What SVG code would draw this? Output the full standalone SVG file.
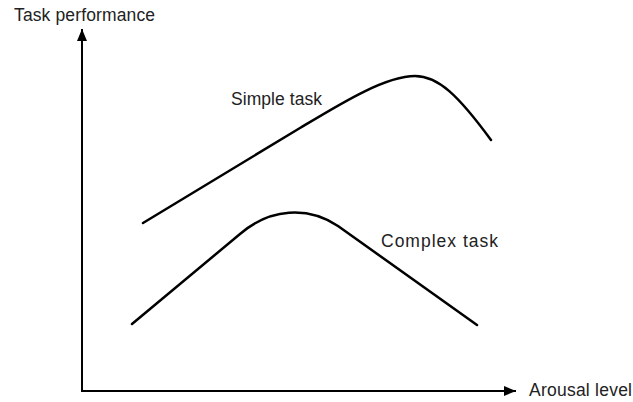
<svg xmlns="http://www.w3.org/2000/svg" width="633" height="402" viewBox="0 0 633 402">
<style>
.t{font-family:"Liberation Sans",Arial,sans-serif;font-size:17.5px;fill:#222}
.c{fill:none;stroke:#000;stroke-width:2.5;stroke-linecap:round}
.ax{fill:none;stroke:#000;stroke-width:2}
</style>
<defs>
<marker id="ah" viewBox="0 0 12 10" refX="12" refY="5" markerWidth="12" markerHeight="10" markerUnits="userSpaceOnUse" orient="auto"><path d="M0,0 L12,5 L0,10 Z" fill="#000"/></marker>
</defs>
<rect width="633" height="402" fill="#fff"/>
<g id="connectors">
<path class="ax" d="M82,391 L82,29" marker-end="url(#ah)"/>
<path class="ax" d="M81,391 L516,391" marker-end="url(#ah)"/>
</g>
<g id="simple-curve">
<path class="c" d="M143,223 L300,128 C340,104 385,76 415,76 C438,76 458,95 491,140"/>
</g>
<g id="complex-curve">
<path class="c" d="M132,324 L240,234 C270,208 308,206 338,226 L477,325"/>
</g>
<g id="labels">
<text class="t" x="14" y="21" textLength="141">Task performance</text>
<text class="t" x="529" y="396" textLength="103">Arousal level</text>
<text class="t" x="231" y="105" textLength="91">Simple task</text>
<text class="t" x="381" y="247" textLength="117">Complex task</text>
</g>
</svg>
